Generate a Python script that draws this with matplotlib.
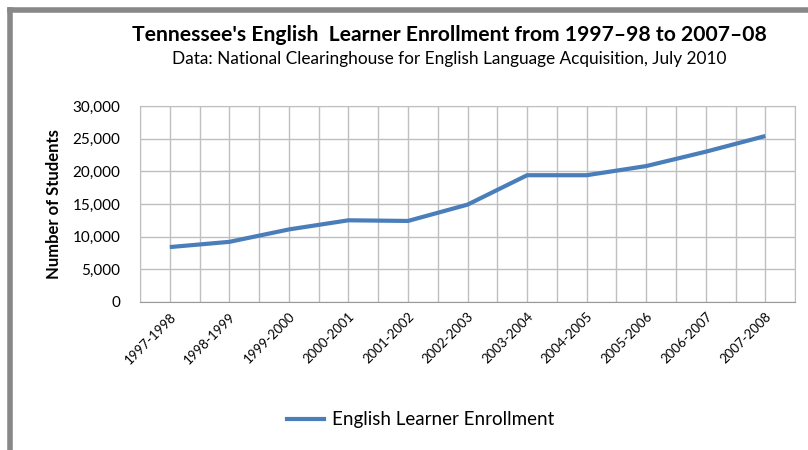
import numpy as np
import matplotlib.pyplot as plt
from matplotlib.lines import Line2D
from matplotlib.ticker import FuncFormatter

years = ['1997-1998', '1998-1999', '1999-2000', '2000-2001', '2001-2002', '2002-2003',
         '2003-2004', '2004-2005', '2005-2006', '2006-2007', '2007-2008']
enrollment = [8400, 9200, 11100, 12500, 12400, 14900, 19400, 19400, 20800, 23000, 25400]
y_ticks = [0, 5000, 10000, 15000, 20000, 25000, 30000]

plt.rcParams['font.family'] = ['Lato', 'DejaVu Sans']

fig = plt.figure(figsize=(8.08, 4.5), dpi=100)
ax = fig.add_axes([0.1733, 0.329, 0.8107, 0.4355])

x = np.arange(len(years))
ax.plot(x, enrollment, color='#4a7ebb', lw=3, solid_capstyle='butt')

ax.set_xlim(-0.5, len(years) - 0.5)
ax.set_ylim(0, 30000)
ax.set_yticks(y_ticks)
ax.yaxis.set_major_formatter(FuncFormatter(lambda v, p: f'{int(v):,}'))
ax.set_xticks(x)
ax.set_xticklabels(years, rotation=45, ha='right', rotation_mode='anchor', fontsize=9.5)
ax.tick_params(axis='both', length=0, colors='black')
ax.tick_params(axis='y', labelsize=11, pad=14)
ax.tick_params(axis='x', pad=6)

# half-category vertical grid + horizontal grid
for gx in np.arange(-0.5, len(years), 0.5):
    ax.axvline(gx, color='#bfbfbf', lw=1, zorder=0)
for gy in y_ticks:
    ax.axhline(gy, color='#bfbfbf', lw=1, zorder=0)
for s in ax.spines.values():
    s.set_color('#bfbfbf')
ax.spines['bottom'].set_color('#999999')

ax.set_ylabel('Number of Students', fontsize=12, fontweight='bold', labelpad=8)

fig.text(0.556, 0.922, "Tennessee's English  Learner Enrollment from 1997\u201398 to 2007\u201308",
         ha='center', va='center', fontsize=15.2, fontweight='bold')
fig.text(0.556, 0.868, 'Data: National Clearinghouse for English Language Acquisition, July 2010',
         ha='center', va='center', fontsize=12.4)

# legend
h = Line2D([], [], color='#4a7ebb', lw=3)
fig.legend([h], ['English Learner Enrollment'], loc='center', bbox_to_anchor=(0.52, 0.067),
           frameon=False, fontsize=13.5, handlelength=2.0, handletextpad=0.4)

# outer gray frame (top and left only)
fig.add_artist(Line2D([0.0127, 1.0], [0.9783, 0.9783], color='#888888', lw=4, transform=fig.transFigure))
fig.add_artist(Line2D([0.0127, 0.0127], [0.0, 0.9783], color='#888888', lw=4, transform=fig.transFigure))

fig.savefig('out.png', dpi=100)
